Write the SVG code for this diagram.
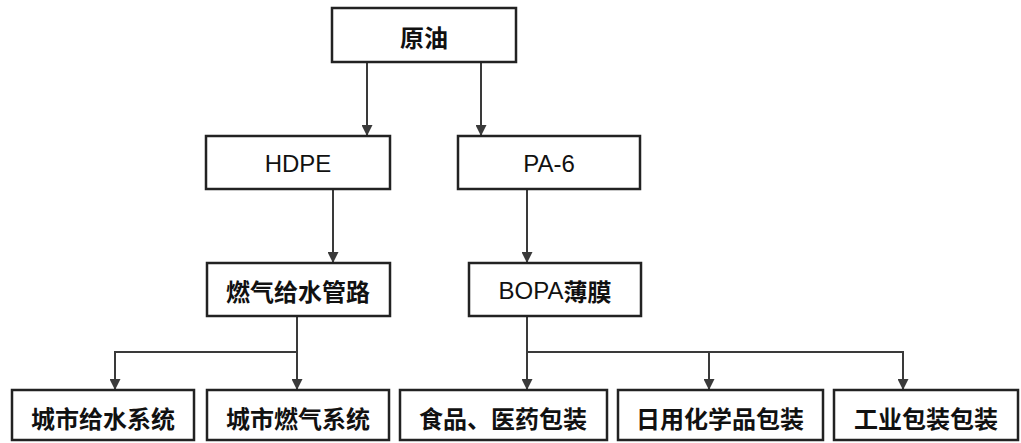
<svg xmlns="http://www.w3.org/2000/svg" width="1021" height="443" viewBox="0 0 1021 443">
<defs>
<marker id="ah" viewBox="0 0 10 10" refX="10" refY="5" markerWidth="11" markerHeight="11" markerUnits="userSpaceOnUse" orient="auto">
<path d="M0,0 L10,5 L0,10 Z" fill="#3a3a3a"/>
</marker>
<style>
.box{fill:#fff;stroke:#222;stroke-width:2.5}
.t{font-family:"Noto Sans CJK SC","Liberation Sans",sans-serif;font-size:24px;font-weight:bold;fill:#111;text-anchor:middle;dominant-baseline:central}
.l{font-family:"Liberation Sans","Noto Sans CJK SC",sans-serif;font-size:24px;font-weight:normal;fill:#111;text-anchor:middle;dominant-baseline:central}
.c{fill:none;stroke:#3a3a3a;stroke-width:2}
.a{marker-end:url(#ah)}
</style>
</defs>
<rect width="1021" height="443" fill="#fff"/>
<g id="connectors">
<line class="c a" x1="367" y1="62" x2="367" y2="136"/>
<line class="c a" x1="481" y1="62" x2="481" y2="136"/>
<line class="c a" x1="333" y1="189" x2="333" y2="263"/>
<line class="c a" x1="527" y1="189" x2="527" y2="263"/>
<polyline class="c" points="297,316 297,352 115,352"/>
<line class="c a" x1="115" y1="351" x2="115" y2="390"/>
<line class="c a" x1="297" y1="351" x2="297" y2="390"/>
<polyline class="c" points="527,316 527,352 903,352"/>
<line class="c a" x1="527" y1="351" x2="527" y2="390"/>
<line class="c a" x1="709" y1="351" x2="709" y2="390"/>
<line class="c a" x1="903" y1="351" x2="903" y2="390"/>
</g>
<g id="n-yuanyou"><rect class="box" x="332" y="8" width="184" height="54"/><text class="t" x="424" y="36">原油</text></g>
<g id="n-hdpe"><rect class="box" x="206" y="136" width="184" height="53"/><text class="l" x="298" y="163">HDPE</text></g>
<g id="n-pa6"><rect class="box" x="458" y="136" width="182" height="53"/><text class="l" x="549" y="163">PA-6</text></g>
<g id="n-ranqi"><rect class="box" x="207" y="263" width="183" height="53"/><text class="t" x="298" y="290">燃气给水管路</text></g>
<g id="n-bopa"><rect class="box" x="469" y="263" width="172" height="53"/><text class="l" x="555" y="290">BOPA<tspan font-family="Noto Sans CJK SC" font-weight="bold">薄膜</tspan></text></g>
<g id="n-water"><rect class="box" x="12" y="390" width="182" height="50"/><text class="t" x="103" y="417">城市给水系统</text></g>
<g id="n-gas"><rect class="box" x="207" y="390" width="182" height="50"/><text class="t" x="298" y="417">城市燃气系统</text></g>
<g id="n-food"><rect class="box" x="400" y="390" width="207" height="50"/><text class="t" x="503" y="417">食品、医药包装</text></g>
<g id="n-daily"><rect class="box" x="618" y="390" width="205" height="50"/><text class="t" x="720" y="417">日用化学品包装</text></g>
<g id="n-ind"><rect class="box" x="834" y="390" width="184" height="50"/><text class="t" x="926" y="417">工业包装包装</text></g>
</svg>
